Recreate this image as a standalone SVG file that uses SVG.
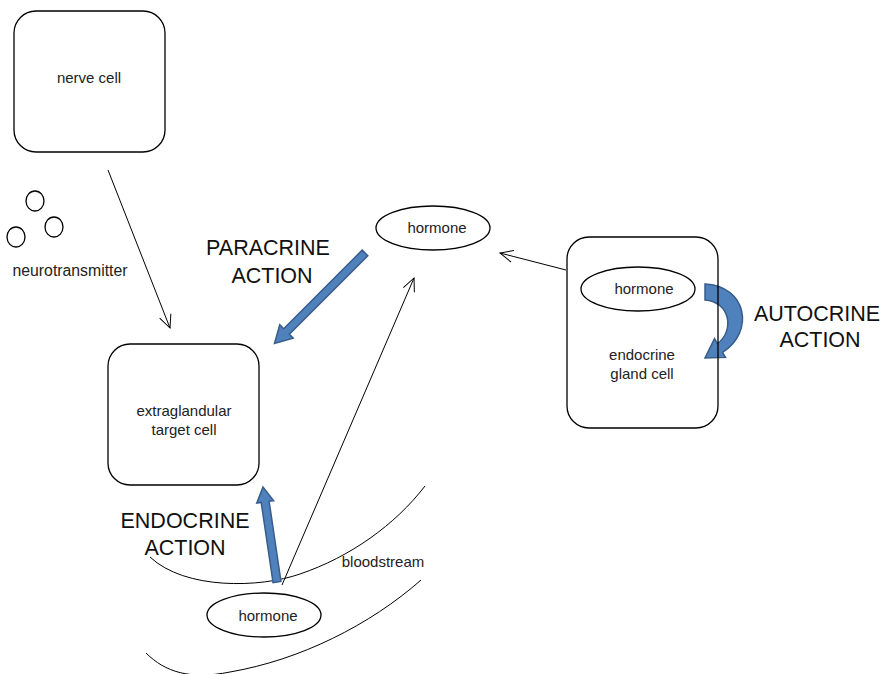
<svg xmlns="http://www.w3.org/2000/svg" width="886" height="674" viewBox="0 0 886 674">
<defs>
<style>
.box{fill:none;stroke:#000;stroke-width:1.3}
.ell{fill:#fff;stroke:#000;stroke-width:1.3}
.t{font-family:"Liberation Sans",Arial,sans-serif;font-size:15px;fill:#222;text-anchor:middle}
.big{font-family:"Liberation Sans",Arial,sans-serif;font-size:21.5px;fill:#111;text-anchor:middle}
.ln{fill:none;stroke:#000;stroke-width:1}
.blue{fill:#4F81BD;stroke:#385D8A;stroke-width:1.5}
</style>
<marker id="open" markerWidth="16" markerHeight="14" refX="14" refY="7" orient="auto" markerUnits="userSpaceOnUse">
<path d="M1,1 L14,7 L1,13" fill="none" stroke="#000" stroke-width="1"/>
</marker>
</defs>
<rect width="886" height="674" fill="#fff"/>

<g id="bloodstream">
<path class="ln" d="M150,557 C185,590 260,588 300,574 C350,557 395,525 425,486"/>
<path class="ln" d="M146,653 C165,672 190,680 230,672 C300,660 370,625 421,580"/>
<text class="t" x="383" y="567">bloodstream</text>
</g>

<g id="connectors">
<line class="ln" x1="108" y1="170" x2="170" y2="328" marker-end="url(#open)"/>
<line class="ln" x1="566" y1="270" x2="500" y2="253" marker-end="url(#open)"/>
<line class="ln" x1="282" y1="585" x2="414" y2="278" marker-end="url(#open)"/>
<polygon class="blue" transform="translate(365,253) rotate(135)" points="0,-4 111,-4 111,-9.5 128,0 111,9.5 111,4 0,4"/>
<polygon class="blue" transform="translate(277,582) rotate(-98.4)" points="0,-4 81,-4 81,-8.5 96,0 81,8.5 81,4 0,4"/>
<path class="blue" d="M705,284 C747,286 755,332 722.5,352.3 L725.5,357.4 L705,358 L714.5,338.6 L717.5,343.7 C735,330 730,302 705,300 Z"/>
</g>

<g id="nerve-cell">
<rect class="box" x="14" y="11" width="151" height="141" rx="22"/>
<text class="t" x="89" y="83">nerve cell</text>
</g>

<g id="neurotransmitter">
<ellipse class="box" cx="35" cy="201" rx="9" ry="10"/>
<ellipse class="box" cx="54" cy="227" rx="9" ry="10"/>
<ellipse class="box" cx="16" cy="237" rx="9" ry="10"/>
<text class="t" x="70" y="276" style="font-size:15.8px">neurotransmitter</text>
</g>

<g id="target-cell">
<rect class="box" x="108" y="344" width="151" height="141" rx="22"/>
<text class="t" x="184" y="416">extraglandular</text>
<text class="t" x="184" y="435">target cell</text>
</g>

<g id="gland-cell">
<rect class="box" x="567" y="237" width="151" height="191" rx="22"/>
<text class="t" x="642" y="360">endocrine</text>
<text class="t" x="642" y="379">gland cell</text>
</g>

<g id="hormone-gland">
<ellipse class="ell" cx="638" cy="289" rx="57" ry="22"/>
<text class="t" x="644" y="294">hormone</text>
</g>

<g id="hormone-top">
<ellipse class="ell" cx="433" cy="228" rx="57" ry="22"/>
<text class="t" x="437" y="233">hormone</text>
</g>

<g id="hormone-bottom">
<ellipse class="ell" cx="264" cy="615" rx="57" ry="22"/>
<text class="t" x="268" y="621">hormone</text>
</g>

<g id="labels">
<text class="big" x="268" y="255">PARACRINE</text>
<text class="big" x="272" y="283">ACTION</text>
<text class="big" x="185" y="528">ENDOCRINE</text>
<text class="big" x="185" y="555">ACTION</text>
<text class="big" x="817" y="321">AUTOCRINE</text>
<text class="big" x="820" y="347">ACTION</text>
</g>
</svg>
